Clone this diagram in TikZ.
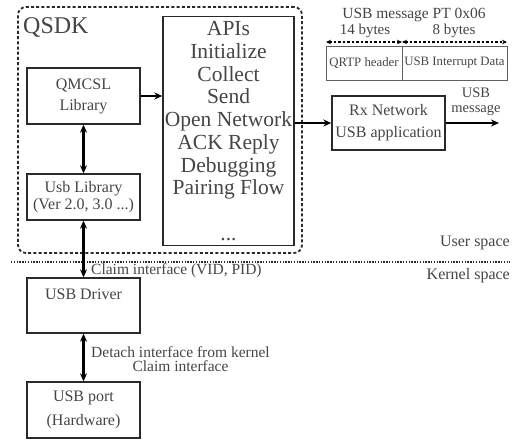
\documentclass[tikz,border=0pt]{standalone}
\usepackage{fontspec}
\setmainfont{Liberation Serif}
\usetikzlibrary{arrows.meta}
\definecolor{txt}{HTML}{454545}
\definecolor{ln}{HTML}{2A2A2A}
\begin{document}
\begin{tikzpicture}[x=1pt,y=-1pt,
  box/.style={draw=ln,line width=1.4pt,inner sep=0pt,align=center,text=txt},
  thinbox/.style={draw=ln!75,line width=0.9pt,inner sep=0pt,align=center,text=txt},
  biarrow/.style={{Stealth[length=8pt,width=7pt]}-{Stealth[length=8pt,width=7pt]},line width=2.4pt,draw=black},
  onearrow/.style={-{Stealth[length=8pt,width=7pt]},line width=2.2pt,draw=black},
  hdrarrow/.style={{Stealth[length=5pt,width=4.5pt]}-{Stealth[length=5pt,width=4.5pt]},line width=1.3pt,dash pattern=on 2.5pt off 2pt,draw=black},
  lbl/.style={text=txt,inner sep=0pt,align=center},
  fa/.style={font=\fontsize{16}{21}\selectfont},
  fs/.style={font=\fontsize{12.8}{15}\selectfont},
]
\useasboundingbox (0,0) rectangle (516,440);

% QSDK container
\node[draw=ln,line width=1.8pt,dash pattern=on 3pt off 2.2pt,rounded corners=8pt,minimum width=284pt,minimum height=246pt,inner sep=0pt] (qsdk) at (160,130) {};
\node[lbl,anchor=west,font=\fontsize{24}{26}\selectfont] (qsdkl) at (23,27) {QSDK};

% left column boxes
\node[box,fa,minimum width=113pt,minimum height=56pt] (qmcsl) at (83.5,96) {QMCSL\\Library};
\node[box,font=\fontsize{16}{16.5}\selectfont,minimum width=113pt,minimum height=46pt] (usblib) at (83.5,197) {Usb Library\\(Ver 2.0, 3.0 ...)};
\node[box,font=\fontsize{16}{22}\selectfont,minimum width=113pt,minimum height=55pt] (drv) at (83.5,305.5) {USB Driver\\\mbox{}};
\node[box,font=\fontsize{16}{24}\selectfont,minimum width=113pt,minimum height=56pt] (port) at (83.5,410) {USB port\\(Hardware)};

% APIs box
\node[box,font=\fontsize{21.5}{22.7}\selectfont,minimum width=131pt,minimum height=229pt] (apis) at (228.5,131)
  {APIs\\Initialize\\Collect\\Send\\Open Network\\ACK Reply\\Debugging\\Pairing Flow\\\\...};

% Rx box
\node[box,font=\fontsize{16}{22}\selectfont,minimum width=113pt,minimum height=54pt] (rx) at (388.5,123) {Rx Network\\USB application};

% message format
\node[thinbox,fs,minimum width=76pt,minimum height=34pt] (qrtp) at (364,63) {QRTP header};
\node[thinbox,fs,minimum width=105pt,minimum height=34pt] (usbint) at (454.5,63) {USB Interrupt Data};
\node[lbl,font=\fontsize{15.5}{16}\selectfont] (msgtitle) at (414,15) {USB message PT 0x06};
\node[lbl,font=\fontsize{15}{16}\selectfont] (b14) at (365,31) {14 bytes};
\node[lbl,font=\fontsize{15}{16}\selectfont] (b8) at (454,31) {8 bytes};
\coordinate (h1) at (326,42);
\coordinate (h2) at (402,42);
\coordinate (h3) at (507,42);
\draw[hdrarrow] (h1) -- (h2);
\draw[hdrarrow] (h2) -- (h3);

% user / kernel separator
\coordinate (sepL) at (11,262);
\coordinate (sepR) at (510,262);
\draw[line width=1.8pt,dash pattern=on 1.4pt off 1.4pt,draw=ln] (sepL) -- (sepR);
\node[lbl,anchor=east,font=\fontsize{16}{18}\selectfont] (user) at (510,243) {User space};
\node[lbl,anchor=east,font=\fontsize{16}{18}\selectfont] (kernel) at (510,276) {Kernel space};

% connectors
\draw[onearrow] (qmcsl.east) -- (apis.west |- qmcsl.east);
\draw[biarrow] (qmcsl.south) -- (usblib.north);
\draw[biarrow] (usblib.south) -- (drv.north);
\draw[biarrow] (drv.south) -- (port.north);
\draw[onearrow] (apis.east |- rx.west) -- (rx.west);
\coordinate (out) at (499,123);
\draw[onearrow] (rx.east) -- (out);
\node[lbl,font=\fontsize{14.5}{14.5}\selectfont] (usbmsg) at (476,102) {USB\\message};

% edge labels
\node[lbl,anchor=west,font=\fontsize{15.5}{17}\selectfont] (claim1) at (91,271) {Claim interface (VID, PID)};
\node[lbl,anchor=west,font=\fontsize{15.5}{14}\selectfont] (detach) at (91,359) {Detach interface from kernel\\Claim interface};
\end{tikzpicture}
\end{document}
